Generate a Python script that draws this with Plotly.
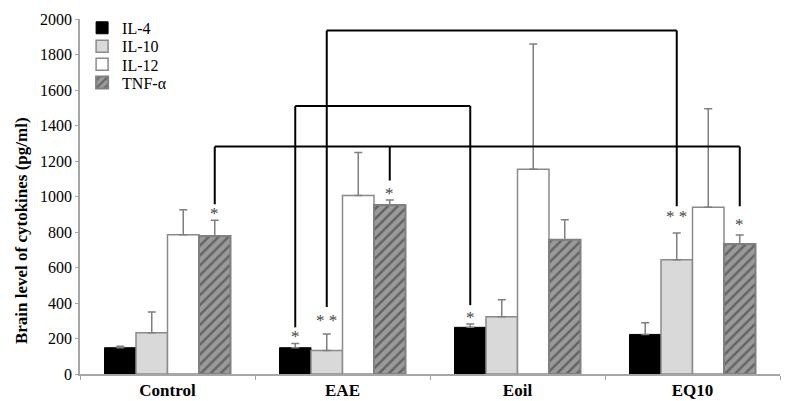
import plotly.graph_objects as go

# data
groups = ["Control", "EAE", "Eoil", "EQ10"]
cytokines = ["IL-4", "IL-10", "IL-12", "TNF-α"]
il4 = [148, 148, 263, 223]
il4_err = [8, 24, 18, 66]
il10 = [232, 133, 322, 643]
il10_err = [118, 92, 96, 152]
il12 = [785, 1005, 1153, 939]
il12_err = [140, 243, 706, 556]
tnf = [778, 952, 757, 732]
tnf_err = [88, 28, 112, 51]

y_ticks = [0, 200, 400, 600, 800, 1000, 1200, 1400, 1600, 1800, 2000]

# significance marks: (group, cytokine index, label, level)
stars = [
    (0, 3, "*", 905),
    (1, 0, "*", 212),
    (1, 1, "* *", 300),
    (1, 3, "*", 1016),
    (2, 0, "*", 316),
    (3, 1, "* *", 889),
    (3, 3, "*", 845),
]

# comparison brackets: list of (group, cytokine, lower end) legs and the top level
brackets = [
    ([(0, 3, 956), (1, 3, 1090), (3, 3, 945)], 1281),
    ([(1, 0, 263), (2, 0, 388)], 1510),
    ([(1, 1, 377), (3, 1, 945)], 1935),
]

bargap = 0.28
bw = (1 - bargap) / len(cytokines)


def xpos(g, c):
    return g - (1 - bargap) / 2 + bw * (c + 0.5)


serif = "Liberation Serif"
fig = go.Figure()

styles = [
    dict(color="#000000", line=dict(color="#000000", width=1)),
    dict(color="#d9d9d9", line=dict(color="#8a8a8a", width=1.5)),
    dict(color="#ffffff", line=dict(color="#8a8a8a", width=1.5)),
    dict(color="#9a9a9a", line=dict(color="#808080", width=2),
         pattern=dict(shape="/", fgcolor="#2b2b2b", size=7, solidity=0.35)),
]
values = [il4, il10, il12, tnf]
errs = [il4_err, il10_err, il12_err, tnf_err]
legend_ids = ["legend", "legend2", "legend3", "legend4"]

for i, name in enumerate(cytokines):
    fig.add_trace(go.Bar(
        x=list(range(len(groups))), y=values[i], name=name,
        marker=styles[i], legend=legend_ids[i],
        error_y=dict(type="data", array=errs[i], arrayminus=[0] * len(groups),
                     color="#7f7f7f", thickness=1.5, width=4),
    ))

for g, c, txt, lvl in stars:
    fig.add_annotation(x=xpos(g, c), y=lvl, text=txt, showarrow=False,
                       font=dict(family=serif, size=17, color="#444444"),
                       yanchor="middle")

for legs, top in brackets:
    xs = [xpos(g, c) for g, c, _ in legs]
    fig.add_shape(type="line", x0=min(xs), x1=max(xs), y0=top, y1=top,
                  line=dict(color="#000000", width=2))
    for g, c, low in legs:
        fig.add_shape(type="line", x0=xpos(g, c), x1=xpos(g, c), y0=low, y1=top,
                      line=dict(color="#000000", width=2))

fig.add_annotation(x=-0.1, y=0.404, xref="paper", yref="paper",
                   text="<b>Brain level of cytokines (pg/ml)</b>", textangle=-90,
                   showarrow=False, font=dict(family=serif, size=17, color="#000000"))

legend_style = dict(x=0.003, xanchor="left", yanchor="middle",
                    font=dict(family=serif, size=16, color="#000000"),
                    bgcolor="rgba(0,0,0,0)")
# page body adds an 8px margin, so the figure is a bit smaller than the window
fig.update_layout(
    width=785, height=393,
    margin=dict(l=72, r=13, t=3, b=27),
    paper_bgcolor="white", plot_bgcolor="white",
    barmode="group", bargap=bargap, bargroupgap=0,
    showlegend=True,
    legend=dict(y=0.975, **legend_style),
    legend2=dict(y=0.923, **legend_style),
    legend3=dict(y=0.872, **legend_style),
    legend4=dict(y=0.821, **legend_style),
    font=dict(family=serif, size=16, color="#000000"),
)
fig.update_xaxes(
    range=[-0.5, 3.5], tickvals=list(range(len(groups))),
    ticktext=[f"<b>{g}</b>" for g in groups], ticks="", automargin=False,
    showline=True, linecolor="#a6a6a6", linewidth=1.5, showgrid=False, zeroline=False,
    tickfont=dict(family=serif, size=17, color="#000000"), ticklabeloverflow="allow",
    minor=dict(tick0=-0.5, dtick=1, ticks="outside", ticklen=4, tickcolor="#a6a6a6"),
)
fig.update_yaxes(
    range=[0, 2000], tickvals=y_ticks, ticks="outside", ticklen=3, tickcolor="#a6a6a6",
    showline=True, linecolor="#a6a6a6", linewidth=1.5, showgrid=False, zeroline=False,
    automargin=False, ticklabeloverflow="allow",
    tickfont=dict(family=serif, size=16, color="#000000"),
)

fig.write_html("out.html")
